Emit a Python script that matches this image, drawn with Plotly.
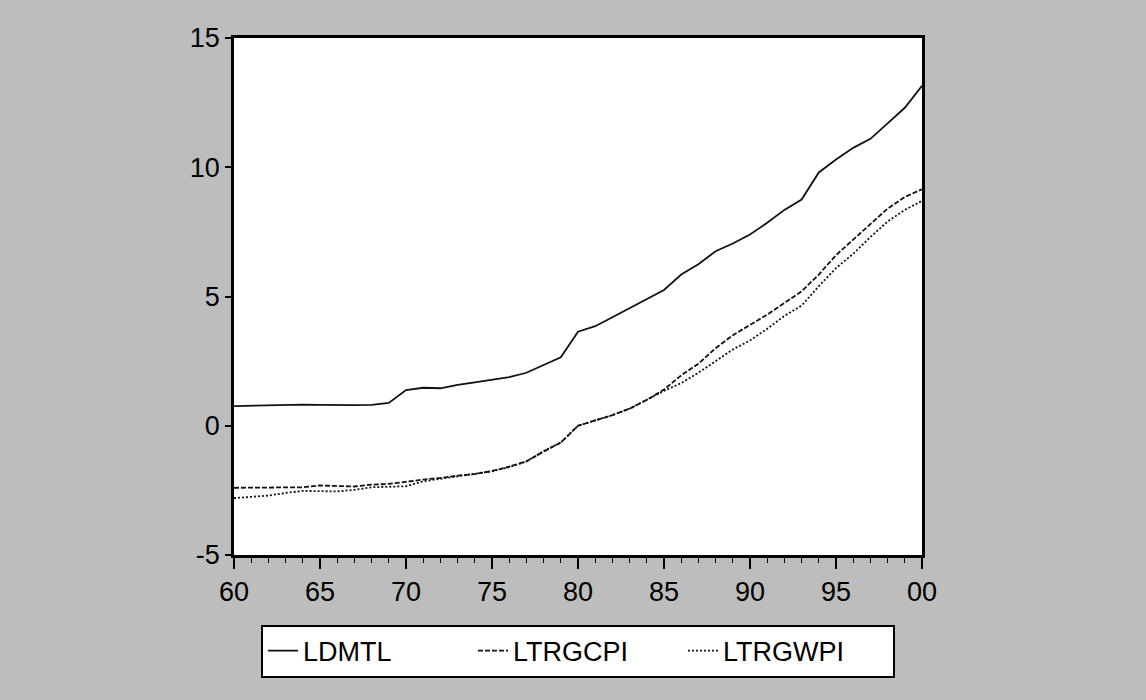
import plotly.graph_objects as go

years = list(range(1960, 2001))

ldmtl = [0.76, 0.78, 0.79, 0.80, 0.82, 0.81, 0.80, 0.80, 0.81, 0.88,
         1.38, 1.47, 1.45, 1.58, 1.68, 1.77, 1.88, 2.05, 2.35, 2.65,
         3.64, 3.85, 4.20, 4.55, 4.90, 5.25, 5.85, 6.25, 6.75, 7.05,
         7.40, 7.85, 8.35, 8.75, 9.80, 10.30, 10.75, 11.10, 11.70, 12.30,
         13.15]

ltrgcpi = [-2.40, -2.40, -2.40, -2.40, -2.38, -2.31, -2.32, -2.35, -2.28, -2.25,
           -2.17, -2.08, -2.02, -1.93, -1.87, -1.75, -1.58, -1.38, -1.00, -0.65,
           0.00, 0.20, 0.41, 0.66, 1.00, 1.40, 1.95, 2.40, 3.00, 3.50,
           3.90, 4.30, 4.75, 5.20, 5.85, 6.60, 7.20, 7.80, 8.40, 8.85,
           9.15]

ltrgwpi = [-2.80, -2.76, -2.70, -2.60, -2.52, -2.53, -2.54, -2.48, -2.38, -2.36,
           -2.34, -2.15, -2.05, -1.95, -1.87, -1.76, -1.60, -1.38, -0.98, -0.65,
           0.00, 0.20, 0.41, 0.66, 1.00, 1.35, 1.65, 2.05, 2.50, 2.95,
           3.30, 3.75, 4.25, 4.65, 5.40, 6.10, 6.65, 7.30, 7.90, 8.35,
           8.70]

x_tickvals = [1960, 1965, 1970, 1975, 1980, 1985, 1990, 1995, 2000]
x_ticktext = ["60", "65", "70", "75", "80", "85", "90", "95", "00"]
y_tickvals = [-5, 0, 5, 10, 15]
y_ticktext = ["-5", "0", "5", "10", "15"]

series = [
    ("LDMTL", ldmtl, "solid"),
    ("LTRGCPI", ltrgcpi, "5px,2px"),
    ("LTRGWPI", ltrgwpi, "2px,2px"),
]

fig = go.Figure()
for name, vals, dash in series:
    fig.add_trace(go.Scatter(
        x=years, y=vals, mode="lines", name=name,
        line=dict(color="#111111", width=1.8, dash=dash),
    ))

font_family = "Liberation Sans, Arial, sans-serif"

fig.update_layout(
    width=1146, height=700,
    margin=dict(l=234, r=224, t=38, b=145),
    paper_bgcolor="#bdbdbd",
    plot_bgcolor="white",
    font=dict(family=font_family, color="black", size=27),
    showlegend=True,
    legend=dict(
        orientation="h",
        x=0.5, xanchor="center",
        y=-0.186, yanchor="middle",
        bgcolor="white",
        bordercolor="black",
        borderwidth=2,
        font=dict(size=27, family=font_family, color="black"),
        entrywidth=165,
        entrywidthmode="pixels",
        tracegroupgap=0,
    ),
    xaxis=dict(
        range=[1960, 2000],
        tickvals=x_tickvals,
        ticktext=x_ticktext,
        ticks="outside", ticklen=11, tickwidth=1.5, tickcolor="black",
        minor=dict(tickvals=years, ticks="outside", ticklen=5,
                   tickwidth=1.2, tickcolor="black"),
        showline=True, linecolor="black", linewidth=2.5, mirror=True,
        showgrid=False, zeroline=False,
        tickfont=dict(size=27),
    ),
    yaxis=dict(
        range=[-5, 15],
        tickvals=y_tickvals,
        ticktext=y_ticktext,
        ticks="outside", ticklen=6, tickwidth=1.5, tickcolor="black",
        showline=True, linecolor="black", linewidth=2.5, mirror=True,
        showgrid=False, zeroline=False,
        tickfont=dict(size=27),
    ),
)

fig.write_html("out.html")
